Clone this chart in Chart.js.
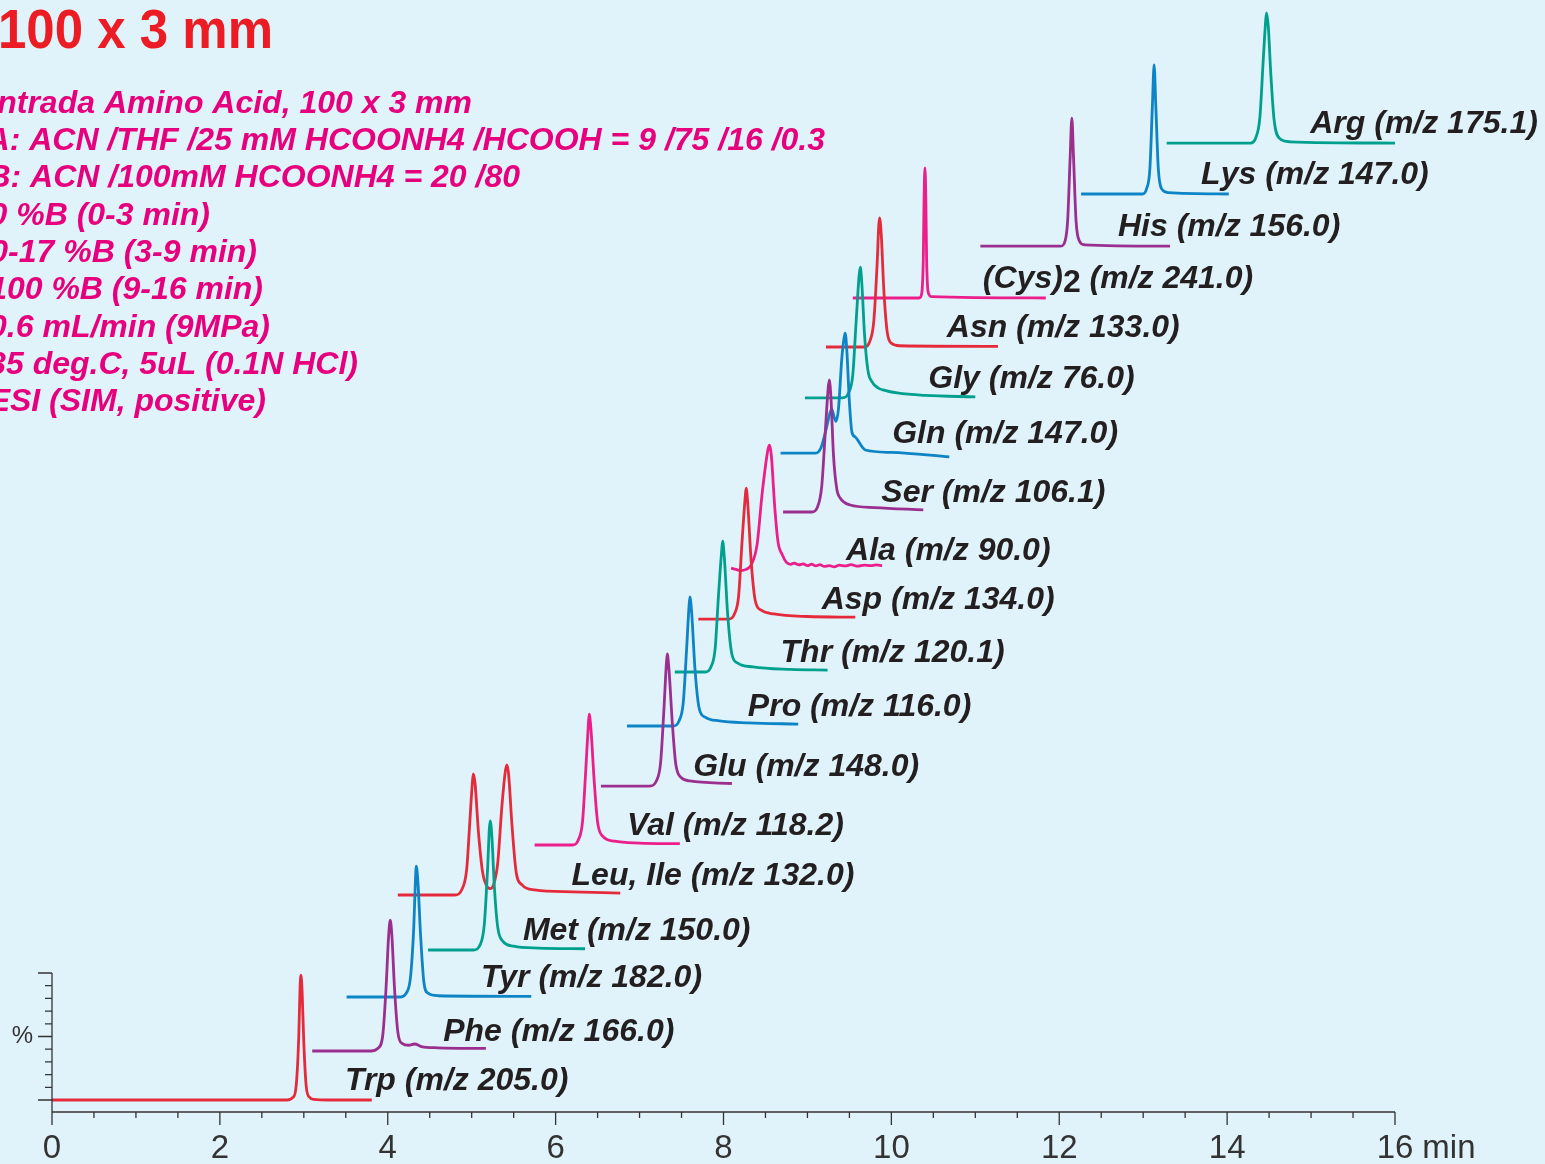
<!DOCTYPE html>
<html>
<head>
<meta charset="utf-8">
<script src="https://cdn.jsdelivr.net/npm/chart.js@4.4.0/dist/chart.umd.min.js"></script>
<style>
  html, body { margin: 0; padding: 0; background: #e0f3fa; }
  #contenedor { position: relative; width: 1545px; height: 1164px; }
</style>
</head>
<body>
<div id="contenedor"><canvas id="cromatograma"></canvas></div>
<script>
// Nombres de cada traza (SIM) en orden de elución
const compuestos = ['Trp (m/z 205.0)', 'Phe (m/z 166.0)', 'Tyr (m/z 182.0)', 'Met (m/z 150.0)',
  'Leu, Ile (m/z 132.0)', 'Val (m/z 118.2)', 'Glu (m/z 148.0)', 'Pro (m/z 116.0)', 'Thr (m/z 120.1)',
  'Asp (m/z 134.0)', 'Ala (m/z 90.0)', 'Ser (m/z 106.1)', 'Gln (m/z 147.0)', 'Gly (m/z 76.0)',
  'Asn (m/z 133.0)', '(Cys)2 (m/z 241.0)', 'His (m/z 156.0)', 'Lys (m/z 147.0)', 'Arg (m/z 175.1)'];

// Desplazamiento vertical de cada traza (en %)
const desplazamientos = [0, 38.6, 81.1, 118.1, 161.4, 200.8, 247.2, 294.5, 337.0, 378.7,
  417.3, 463.0, 509.4, 552.8, 592.9, 631.5, 672.4, 713.4, 753.5];

// Tiempo (min) donde empieza cada etiqueta
const inicioEtiqueta = [3.49, 4.66, 5.11, 5.61, 6.19, 6.85, 7.64, 8.29, 8.68, 9.17,
  9.46, 9.88, 10.01, 10.44, 10.66, 11.09, 12.70, 13.69, 14.99];

// Trazas: [tiempo (min), intensidad (%)]
const trp = [[0,0],[2.80,0],[2.87,2],[2.91,12],[2.94,50],[2.955,88],[2.966,98.4],[2.98,85],[3.00,45],[3.03,10],[3.07,2],[3.12,0.5],[3.3,0],[3.81,0]];
const phe = [[3.10,0],[3.80,0],[3.88,2],[3.94,12],[3.98,50],[4.01,90],[4.03,103],[4.05,90],[4.08,50],[4.12,15],[4.17,6],[4.25,4.5],[4.32,5.5],[4.40,3.5],[4.6,2.5],[5.17,2]];
const tyr = [[3.51,0],[4.15,0],[4.22,3],[4.27,15],[4.31,55],[4.33,92],[4.34,103],[4.36,90],[4.39,50],[4.43,12],[4.48,3],[4.6,1],[5.71,0.5]];
const met = [[4.48,0],[5.02,0],[5.10,4],[5.15,20],[5.19,65],[5.21,95],[5.22,101.6],[5.24,90],[5.27,50],[5.31,18],[5.37,7],[5.5,3],[5.8,1.5],[6.35,1]];
const leuIle = [[4.12,0],[4.80,0],[4.88,4],[4.94,20],[4.98,60],[5.01,90],[5.02,95.3],[5.04,88],[5.08,50],[5.13,18],[5.18,7],[5.22,5],[5.26,8],[5.31,25],[5.36,70],[5.40,97],[5.42,102.4],[5.44,95],[5.48,55],[5.53,18],[5.6,8],[5.75,4],[6.2,2.5],[6.77,1.5]];
const val = [[5.75,0],[6.20,0],[6.27,4],[6.32,18],[6.36,60],[6.39,95],[6.40,103],[6.42,92],[6.46,50],[6.50,18],[6.56,7],[6.7,3],[7.0,1.5],[7.48,1]];
const glu = [[6.54,0],[7.12,0],[7.20,4],[7.25,18],[7.29,60],[7.32,97],[7.33,104],[7.35,92],[7.39,50],[7.43,18],[7.49,7],[7.6,4],[8.10,2]];
const pro = [[6.85,0],[7.40,0],[7.47,4],[7.52,18],[7.56,60],[7.59,95],[7.60,101.6],[7.62,90],[7.66,45],[7.71,14],[7.78,7],[7.95,4],[8.3,2.5],[8.89,1.5]];
const thr = [[7.42,0],[7.78,0],[7.85,4],[7.90,18],[7.94,60],[7.98,97],[7.99,103],[8.01,90],[8.05,45],[8.10,14],[8.17,7],[8.35,4],[8.8,2],[9.24,1.5]];
const asp = [[7.70,0],[8.06,0],[8.13,4],[8.18,18],[8.22,60],[8.26,97],[8.27,103],[8.29,90],[8.33,45],[8.38,14],[8.45,7],[8.6,4],[9.0,2],[9.57,1.5]];
const ala = [[8.09,1.5],[8.15,0.5],[8.2,-0.5],[8.27,0.5],[8.33,4],[8.40,20],[8.46,60],[8.53,95],[8.55,98.4],[8.57,90],[8.61,50],[8.65,22],[8.70,12],[8.75,6],[8.8,4.5],[8.84,5.5],[8.9,4],[8.95,4.8],[9.0,3.5],[9.05,4.6],[9.1,3.2],[9.15,4.2],[9.2,2.8],[9.26,3.5],[9.32,2.5],[9.38,3.8],[9.45,3.2],[9.52,4.2],[9.6,3],[9.68,3.8],[9.75,3.4],[9.82,4],[9.89,3.5]];
const ser = [[8.71,0],[9.05,0],[9.12,4],[9.17,20],[9.21,60],[9.245,96],[9.26,104],[9.28,90],[9.31,45],[9.35,18],[9.39,11],[9.51,5.5],[9.8,3.5],[10.38,1.6]];
const gln = [[8.68,0],[9.10,0],[9.16,4],[9.22,18],[9.27,32],[9.29,34.6],[9.32,28],[9.34,25],[9.37,35],[9.41,75],[9.44,92],[9.45,94.5],[9.47,80],[9.50,40],[9.53,16.5],[9.57,12.6],[9.69,2.4],[10.0,0.5],[10.69,-3]];
const gly = [[8.97,0],[9.42,0],[9.49,4],[9.54,18],[9.58,60],[9.615,96],[9.63,103],[9.65,88],[9.68,50],[9.72,22],[9.77,12.6],[9.84,8],[9.90,6.3],[10.07,3.9],[10.4,2],[11.0,0.8]];
const asn = [[9.22,0],[9.68,0],[9.74,4],[9.79,20],[9.83,65],[9.85,96],[9.86,101.6],[9.88,88],[9.91,45],[9.95,12],[10.0,3],[10.1,1],[11.27,0.5]];
const cys2 = [[9.54,0],[10.33,0],[10.36,3],[10.38,30],[10.39,80],[10.40,102.4],[10.41,80],[10.42,30],[10.44,4],[10.48,1],[11.84,0]];
const his = [[11.06,0],[12.02,0],[12.07,4],[12.10,20],[12.13,70],[12.15,100.8],[12.17,70],[12.20,20],[12.24,4],[12.3,1],[13.32,0]];
const lys = [[12.26,0],[12.99,0],[13.04,4],[13.08,20],[13.11,70],[13.13,101.6],[13.15,70],[13.18,20],[13.22,4],[13.3,1],[14.02,0]];
const arg = [[13.28,0],[14.28,0],[14.34,4],[14.39,20],[14.43,65],[14.46,97],[14.47,102.4],[14.49,92],[14.52,55],[14.56,18],[14.62,4],[14.75,1],[16.0,0]];

const trazas = [trp, phe, tyr, met, leuIle, val, glu, pro, thr, asp, ala, ser, gln, gly, asn, cys2, his, lys, arg];

// Etiquetas del eje x
const ticksX = [0, 2, 4, 6, 8, 10, 12, 14, 16];

// Condiciones (texto rosa, recortado por la izquierda como en el original)
const condiciones = ['ntrada Amino Acid, 100 x 3 mm',
  'A: ACN /THF /25 mM HCOONH4 /HCOOH = 9 /75 /16 /0.3',
  'B: ACN /100mM HCOONH4 = 20 /80',
  '0 %B (0-3 min)',
  '0-17 %B (3-9 min)',
  '100 %B (9-16 min)',
  '0.6 mL/min (9MPa)',
  '35 deg.C, 5uL (0.1N HCl)',
  'ESI (SIM, positive)'];

const ROJO = '#e52b3b', MORADO = '#9b2f8f', AZUL = '#0c84c6', VERDE = '#00a08f', ROSA = '#ec1e8c';
const colores = [ROJO, MORADO, AZUL, VERDE, ROJO, ROSA, MORADO, AZUL, VERDE, ROJO, ROSA, MORADO, AZUL, VERDE, ROJO, ROSA, MORADO, AZUL, VERDE];

const fuente = '"Liberation Sans", Arial, sans-serif';

const datasets = trazas.map((traza, i) => ({
  label: compuestos[i],
  data: traza.map(p => ({ x: p[0], y: p[1] + desplazamientos[i] })),
  borderColor: colores[i],
  borderWidth: 2.8,
  pointRadius: 0,
  fill: false,
  cubicInterpolationMode: 'monotone'
}));

// Dibuja ejes cortos, etiquetas de pico y textos
const extras = {
  id: 'extras',
  afterDatasetsDraw(chart) {
    const ctx = chart.ctx;
    const x = chart.scales.x, y = chart.scales.y;
    const base = chart.chartArea.bottom;
    const x0 = x.getPixelForValue(0);
    ctx.save();
    ctx.strokeStyle = '#333333';
    ctx.lineWidth = 1.3;
    ctx.beginPath();
    ctx.moveTo(x0, base);
    ctx.lineTo(x.getPixelForValue(16), base);
    for (let t = 0; t <= 16; t += 0.5) {
      const px = x.getPixelForValue(t);
      ctx.moveTo(px, base);
      ctx.lineTo(px, base + (t % 2 === 0 ? 13 : 6));
    }
    ctx.moveTo(x0, y.getPixelForValue(100));
    ctx.lineTo(x0, base);
    for (let v = 0; v <= 100; v += 10) {
      const py = y.getPixelForValue(v);
      ctx.moveTo(x0, py);
      ctx.lineTo(x0 - (v % 50 === 0 ? 14 : 7), py);
    }
    ctx.stroke();

    ctx.fillStyle = '#333333';
    ctx.font = '24px ' + fuente;
    ctx.textAlign = 'right';
    ctx.textBaseline = 'middle';
    ctx.fillText('%', 33, y.getPixelForValue(50));

    // "min" después del 16
    ctx.font = '33px ' + fuente;
    ctx.textAlign = 'left';
    const p16 = x.getPixelForValue(16);
    ctx.fillText('min', p16 + ctx.measureText('16').width / 2 + 9, base + 17 + 19.8);

    // Etiquetas de cada pico
    ctx.fillStyle = '#231f20';
    ctx.textBaseline = 'middle';
    compuestos.forEach((nombre, i) => {
      const px = x.getPixelForValue(inicioEtiqueta[i]);
      const py = y.getPixelForValue(desplazamientos[i]) - 19;
      if (nombre.startsWith('(Cys)2')) {
        ctx.font = 'italic bold 32px ' + fuente;
        ctx.fillText('(Cys)', px, py);
        let w = ctx.measureText('(Cys)').width;
        ctx.font = 'bold 32px ' + fuente;
        ctx.fillText('2', px + w, py + 4);
        w += ctx.measureText('2').width;
        ctx.font = 'italic bold 32px ' + fuente;
        ctx.fillText(nombre.slice(6), px + w, py);
      } else {
        ctx.font = 'italic bold 32px ' + fuente;
        ctx.fillText(nombre, px, py);
      }
    });

    // Título
    ctx.fillStyle = '#ec1c24';
    ctx.font = 'bold 56px ' + fuente;
    ctx.textAlign = 'left';
    ctx.textBaseline = 'alphabetic';
    const titulo = '100 x 3 mm';
    const anchoT = ctx.measureText(titulo).width;
    ctx.save();
    ctx.translate(-2, 48);
    ctx.scale(275 / anchoT, 1);
    ctx.fillText(titulo, 0, 0);
    ctx.restore();

    // Condiciones
    const finales = [472, 825, 520, 210, 257, 263, 270, 358, 266];
    ctx.fillStyle = '#e6007e';
    ctx.font = 'italic bold 32px ' + fuente;
    ctx.textAlign = 'right';
    ctx.textBaseline = 'middle';
    condiciones.forEach((linea, i) => {
      ctx.fillText(linea, finales[i], 104 + i * 37.3);
    });
    ctx.restore();
  }
};

new Chart(document.getElementById('cromatograma').getContext('2d'), {
  type: 'line',
  data: { datasets: datasets },
  options: {
    responsive: true,
    maintainAspectRatio: false,
    animation: false,
    layout: { padding: { left: 52, right: 150, top: 0, bottom: 0 } },
    plugins: { legend: { display: false }, tooltip: { enabled: false } },
    scales: {
      x: {
        type: 'linear',
        min: 0,
        max: 16,
        afterBuildTicks: s => { s.ticks = ticksX.map(v => ({ value: v })); },
        afterFit: s => { s.height = 52; },
        grid: { display: false, drawTicks: false },
        border: { display: false },
        ticks: {
          padding: 17,
          color: '#333333',
          font: { family: fuente, size: 33 },
          maxRotation: 0,
          autoSkip: false
        }
      },
      y: {
        display: false,
        min: -9.45,
        max: 866.14
      }
    }
  },
  plugins: [extras]
});
</script>
</body>
</html>
